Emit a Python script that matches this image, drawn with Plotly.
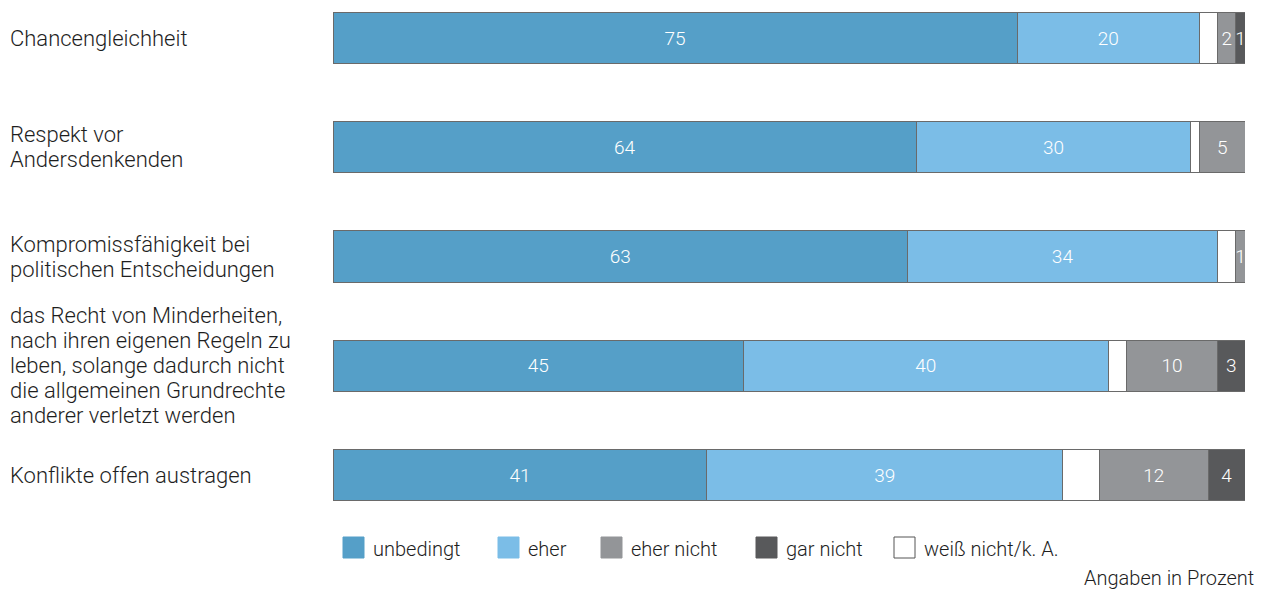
import plotly.graph_objects as go

categories = [
    "Chancengleichheit",
    "Respekt vor<br>Andersdenkenden",
    "Kompromissfähigkeit bei<br>politischen Entscheidungen",
    "das Recht von Minderheiten,<br>nach ihren eigenen Regeln zu<br>leben, solange dadurch nicht<br>die allgemeinen Grundrechte<br>anderer verletzt werden",
    "Konflikte offen austragen",
]
series_names = ["unbedingt", "eher", "weiß nicht/k. A.", "eher nicht", "gar nicht"]
unbedingt = [75, 64, 63, 45, 41]
eher = [20, 30, 34, 40, 39]
weiss_nicht = [2, 1, 2, 2, 4]
eher_nicht = [2, 5, 1, 10, 12]
gar_nicht = [1, 0, 0, 3, 4]
legend_order = ["unbedingt", "eher", "eher nicht", "gar nicht", "weiß nicht/k. A."]

values = [unbedingt, eher, weiss_nicht, eher_nicht, gar_nicht]
colors = {
    "unbedingt": "#559fc8",
    "eher": "#7bbde7",
    "weiß nicht/k. A.": "#ffffff",
    "eher nicht": "#939598",
    "gar nicht": "#58595b",
}
show_text = {"unbedingt": True, "eher": True, "weiß nicht/k. A.": False,
             "eher nicht": True, "gar nicht": True}

FONT = "Roboto, sans-serif"
TXT = "#1e1e1e"
W = 300
PX_PER_UNIT = 109.25
LINE_PX = 25.0

ypos = list(range(len(categories)))
fig = go.Figure()
for name, vals in zip(series_names, values):
    texts = [str(v) if (show_text[name] and v > 0) else "" for v in vals]
    fig.add_trace(go.Bar(
        y=ypos, x=vals, orientation="h", name=name,
        marker=dict(color=colors[name], line=dict(color="#6a6a6a", width=1)),
        text=texts, textposition="inside", insidetextanchor="middle",
        textfont=dict(color="white", size=19, family=FONT, weight=W),
        textangle=0,
        width=0.47, showlegend=False, hoverinfo="skip",
    ))

# category labels, one annotation per line for tight line spacing
for i, c in enumerate(categories):
    lines = c.split("<br>")
    n = len(lines)
    for k, ln in enumerate(lines):
        off = (k - (n - 1) / 2) * LINE_PX / PX_PER_UNIT
        fig.add_annotation(
            x=-325 / 912, xref="paper", y=i + off, yref="y",
            text=ln, showarrow=False, xanchor="left", yanchor="middle", align="left",
            font=dict(size=22, color=TXT, family=FONT, weight=W),
        )

# manual legend
leg_x = [343, 498, 601, 756, 894]
for name, lx in zip(legend_order, leg_x):
    x0 = (lx - 333) / 912
    x1 = (lx + 21 - 333) / 912
    fig.add_shape(type="rect", xref="paper", yref="paper",
                  x0=x0, x1=x1, y0=-(537 - 510) / 510, y1=-(558 - 510) / 510,
                  fillcolor=colors[name],
                  line=dict(color="#555555" if name == "weiß nicht/k. A." else colors[name], width=1))
    fig.add_annotation(x=(lx + 28 - 333) / 912, xref="paper", y=-(549 - 510) / 510, yref="paper",
                       text=name, showarrow=False, xanchor="left", yanchor="middle",
                       font=dict(size=20, color=TXT, family=FONT, weight=W))

fig.add_annotation(x=(1256 - 333) / 912, xref="paper", y=-(578 - 510) / 510, yref="paper",
                   text="Angaben in Prozent", showarrow=False, xanchor="right", yanchor="middle",
                   font=dict(size=20, color=TXT, family=FONT, weight=W))

fig.update_layout(
    barmode="stack",
    width=1264, height=590,
    margin=dict(l=333, r=19, t=0, b=80),
    plot_bgcolor="white", paper_bgcolor="white",
    uniformtext=dict(minsize=19, mode="show"),
    xaxis=dict(range=[0, 100], visible=False, fixedrange=True),
    yaxis=dict(range=[4.32, -0.348], visible=False, fixedrange=True),
    font=dict(family=FONT),
)

fig.write_html("out.html")
